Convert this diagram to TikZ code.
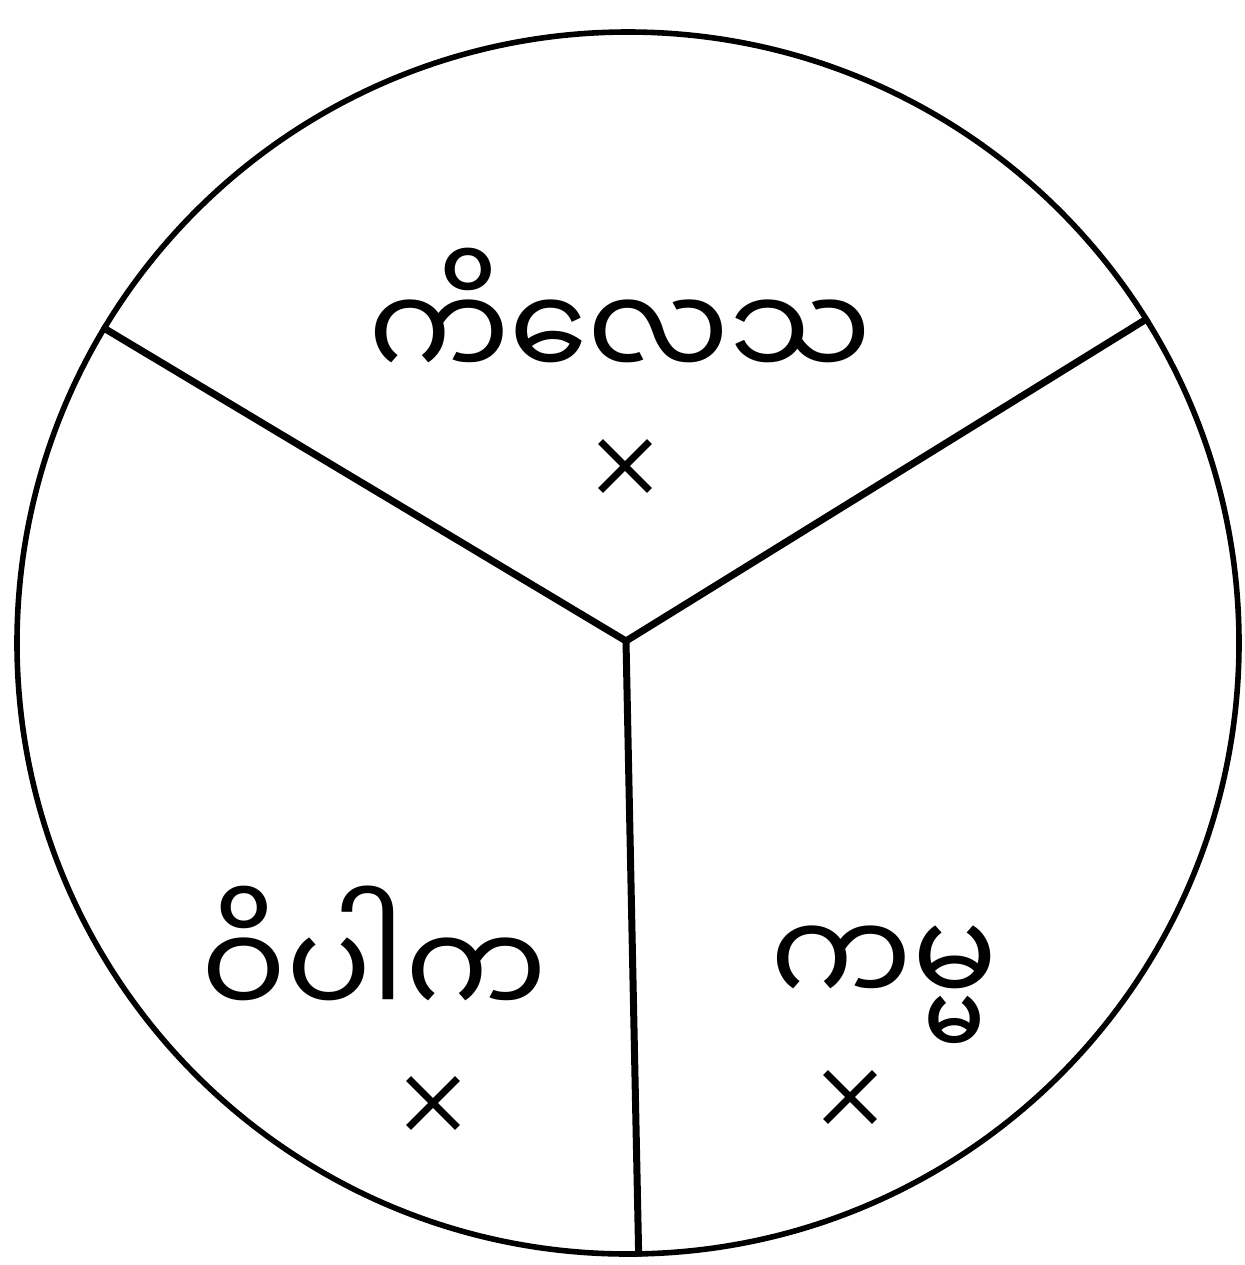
\documentclass[tikz,border=0pt]{standalone}
\usepackage{fontspec}
\newfontfamily\mmfont[Script=Myanmar]{Noto Sans Myanmar UI}
\usetikzlibrary{shapes.misc}
\begin{document}
\begin{tikzpicture}[x=0.5pt,y=-0.5pt,line width=2.6pt,
  lbl/.style={font=\mmfont\fontsize{63}{70}\selectfont,inner sep=0pt},
  xmark/.style={cross out,draw,line width=3.4pt,minimum size=21pt,inner sep=0pt}]
\useasboundingbox (0,0) rectangle (1245,1265);
% wheel and its three spokes
\node[circle,draw,line width=2.8pt,minimum size=611pt,inner sep=0pt] (wheel) at (628,643) {};
\coordinate (hub) at (626,641);
\foreach \a in {149.3,32,-89}{\draw[line width=3.5pt] (hub) -- (wheel.\a);}
% labels
\node[lbl] (kil) at (620,314) {ကိလေသ};
\node[lbl] (vip) at (374,952) {ဝိပါက};
\node[lbl] (kam) at (884,985) {ကမ္မ};
\node[xmark] (xkil) at (625,466) {};
\node[xmark] (xvip) at (433,1103) {};
\node[xmark] (xkam) at (850,1097) {};
\end{tikzpicture}
\end{document}
